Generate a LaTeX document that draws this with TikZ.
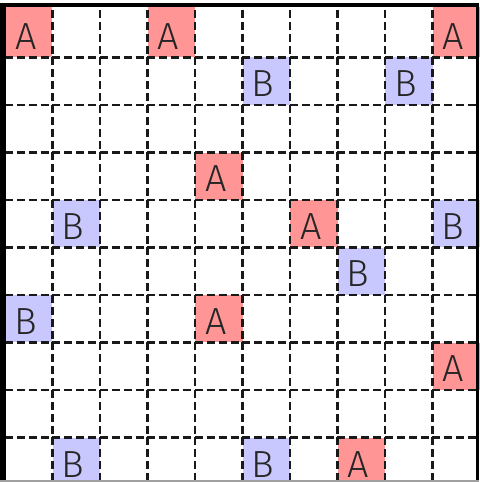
\documentclass[tikz,border=0pt]{standalone}
\usepackage{fontspec}
\newfontfamily\cellfont{Fira Sans Light}
\usepackage{tikz}
\definecolor{cellred}{HTML}{FF9595}
\definecolor{cellblue}{HTML}{C8C8FF}
\definecolor{framegray}{HTML}{A0A0A0}

\begin{document}
\begin{tikzpicture}[x=0.02cm, y=-0.02cm,
  cell/.style   = {minimum width=0.95cm, minimum height=0.95cm, inner sep=0pt,
                   text height=17.9pt, text depth=0pt, text=black!85,
                   font=\cellfont\fontsize{21.5pt}{24pt}\selectfont,
                   execute at end node={\kern0.12cm}},
  ca/.style     = {cell, fill=cellred},
  cb/.style     = {cell, fill=cellblue},
  toprow/.style = {minimum height=1.01cm, yshift=0.03cm, text height=19.6pt},
  botrow/.style = {minimum height=0.85cm, yshift=0.05cm, text height=20.8pt},
  gridln/.style = {black!90, line width=1.25pt, dash pattern=on 0.16cm off 0.0775cm}
]
\useasboundingbox (0,0) rectangle (479,482);

% --- cases A ---
\node[ca, toprow] (a1) at (28.75,33.75)  {A};
\node[ca, toprow] (a2) at (171.25,33.75) {A};
\node[ca, toprow] (a3) at (456.25,33.75) {A};
\node[ca] (a4) at (218.75,176.25) {A};
\node[ca] (a5) at (313.75,223.75) {A};
\node[ca] (a6) at (218.75,318.75) {A};
\node[ca] (a7) at (456.25,366.25) {A};
\node[ca, botrow] (a8) at (361.25,461.25) {A};

% --- cases B ---
\node[cb] (b1) at (266.25,81.25)  {B};
\node[cb] (b2) at (408.75,81.25)  {B};
\node[cb] (b3) at (76.25,223.75)  {B};
\node[cb] (b4) at (456.25,223.75) {B};
\node[cb] (b5) at (361.25,271.25) {B};
\node[cb] (b6) at (28.75,318.75)  {B};
\node[cb, botrow] (b7) at (76.25,461.25)  {B};
\node[cb, botrow] (b8) at (266.25,461.25) {B};

% --- grille ---
\foreach \k in {1,...,9} {
  \draw[gridln] (5+47.5*\k,10) -- (5+47.5*\k,480);
  \draw[gridln] (5,10+47.5*\k) -- (479,10+47.5*\k);
}

% --- cadre ---
\fill[black] (0,3) rectangle (6,481);
\fill[black] (0,3) rectangle (479,7);
\fill[black] (476,3) rectangle (479,480);
\fill[framegray] (0,480) rectangle (479,482);
\end{tikzpicture}
\end{document}
